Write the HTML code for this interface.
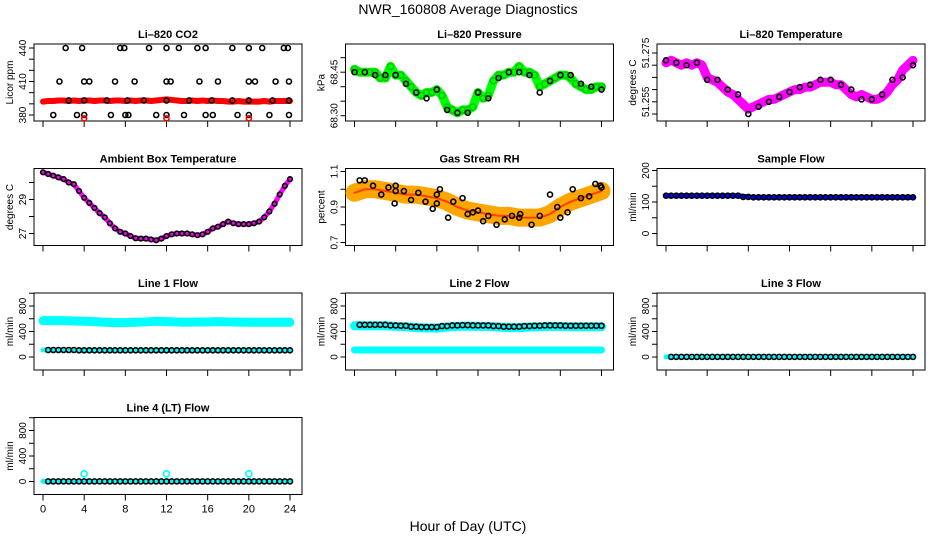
<!DOCTYPE html>
<html><head><meta charset="utf-8">
<style>
html,body{margin:0;padding:0;background:#fff;}
svg{display:block;font-family:"Liberation Sans",sans-serif;}
</style></head>
<body>
<svg id="chart" width="936" height="540" viewBox="0 0 936 540" xmlns="http://www.w3.org/2000/svg">
<text x="468" y="14" font-size="14" text-anchor="middle">NWR_160808  Average Diagnostics</text>
<text x="468" y="531" font-size="14" text-anchor="middle">Hour of Day (UTC)</text>
</svg>
<script>
// ---- data ----
const halfHours = [0,0.5,1,1.5,2,2.5,3,3.5,4,4.5,5,5.5,6,6.5,7,7.5,8,8.5,9,9.5,10,10.5,11,11.5,12,12.5,13,13.5,14,14.5,15,15.5,16,16.5,17,17.5,18,18.5,19,19.5,20,20.5,21,21.5,22,22.5,23,23.5,24];
const hours = [0,1,2,3,4,5,6,7,8,9,10,11,12,13,14,15,16,17,18,19,20,21,22,23,24];
const co2Red = [392,392.5,392.5,393,393,392.5,393,392.5,393,393,392.5,393,393,392.5,393,393,392.5,393,392.5,393,393,392.5,393,393.5,394,393.5,393,392.5,392.5,393,392.5,393,392.5,393,392.5,392.5,392,392,392.5,392,392,392,392,392.5,392,392.5,392.5,392.5,392.5];
const co2BlackH = [2.2,3.8,7.5,7.9,10.3,12,13.2,15,15.8,18.4,20,21.3,23.4,23.8, 1.6,4,4.5,7,8.9,12,12.4,15.2,17,20,20.6,22.6,23.9, 2.5,4,6.2,8.2,9.8,12,14.2,16.4,18.4,20,22.3,23.9, 1,3.3,4,6.6,8,8.3,11,12,13.7,15.8,16.5,18.9,20,22,23.9];
const co2BlackV = [440,440,440,440,440,440,440,440,440,440,440,440,440,440, 410,410,410,410,410,410,410,410,410,410,410,410,410, 393,393,393,393,393,393,393,393,393,393,393,393, 380,380,380,380,380,380,380,380,380,380,380,380,380,380,380];
const co2RedOutH = [4,12,20];
const co2RedOutV = [377,377,377];
const pressGreen = [68.46,68.45,68.45,68.45,68.45,68.43,68.43,68.47,68.44,68.44,68.42,68.40,68.38,68.37,68.38,68.38,68.39,68.37,68.33,68.32,68.31,68.32,68.32,68.33,68.38,68.36,68.37,68.42,68.44,68.44,68.45,68.45,68.47,68.45,68.45,68.44,68.40,68.41,68.42,68.43,68.44,68.44,68.43,68.41,68.40,68.39,68.39,68.40,68.40];
const pressBlack = [68.45,68.45,68.44,68.44,68.44,68.41,68.38,68.36,68.39,68.32,68.31,68.31,68.38,68.36,68.43,68.45,68.45,68.44,68.38,68.42,68.44,68.44,68.41,68.40,68.39];
const tempMag = [51.271,51.272,51.271,51.270,51.271,51.270,51.271,51.270,51.265,51.264,51.263,51.261,51.259,51.258,51.256,51.254,51.252,51.253,51.254,51.255,51.256,51.256,51.257,51.258,51.259,51.260,51.260,51.261,51.261,51.262,51.263,51.263,51.263,51.262,51.262,51.260,51.258,51.257,51.258,51.257,51.256,51.256,51.257,51.259,51.262,51.264,51.268,51.270,51.272];
const tempBlack = [51.272,51.271,51.270,51.271,51.264,51.264,51.260,51.258,51.250,51.253,51.255,51.257,51.259,51.261,51.262,51.264,51.264,51.262,51.260,51.256,51.256,51.258,51.264,51.265,51.270];
const ambMag = [30.6,30.5,30.4,30.3,30.2,30.0,29.9,29.5,29.1,28.8,28.5,28.2,27.95,27.6,27.3,27.1,27.0,26.85,26.72,26.7,26.7,26.65,26.6,26.7,26.85,26.95,27.0,27.0,27.0,26.95,26.9,26.95,27.1,27.3,27.4,27.55,27.7,27.6,27.55,27.55,27.55,27.6,27.7,27.95,28.3,28.75,29.3,29.8,30.2];
const rhCenter = [0.98,1.0,1.0,0.99,0.98,0.97,0.97,0.96,0.95,0.93,0.9,0.88,0.87,0.86,0.85,0.85,0.84,0.84,0.84,0.86,0.9,0.93,0.95,0.97,0.99];
const rhBlackH = [0.5,1,1.8,2.6,3.3,3.9,4,4,4.8,5.5,6.2,6.9,7.6,8,8,8.3,9.1,9.6,10.5,11,11.5,12,12.5,13,13.8,14.6,15.3,16,16.1,17.2,18,19,19.7,20,20.7,21.2,22,22.8,23.4,23.9,24];
const rhBlackV = [1.05,1.05,1.02,0.97,1.01,0.92,1.02,0.99,0.99,0.94,0.98,0.93,0.89,0.92,0.97,1.0,0.84,0.93,0.95,0.86,0.87,0.88,0.82,0.85,0.8,0.83,0.85,0.84,0.86,0.8,0.85,0.97,0.9,0.84,0.87,1.0,0.95,0.96,1.03,1.02,1.01];
const sampleBlue = [120,120,120,120,120,120,120,120,116,115,115,115,115,115,115,115,115,115,115,115,115,115,115,115,115];
const line1Upper = [570,570,570,565,560,555,545,540,540,545,550,560,555,550,545,550,550,555,550,548,545,545,545,548,545];
const line1Lower = [110,110,110,110,105,105,105,105,105,105,105,105,105,105,105,105,105,105,105,105,105,105,105,105,105];
const line2Upper = [490,490,490,490,480,475,460,455,455,470,480,485,480,480,470,460,460,470,475,480,480,475,475,475,475];
const line2Lower = [110,110,110,110,110,110,110,110,110,110,110,110,110,110,110,110,110,110,110,110,110,110,110,110,110];
const line3Vals = [2,2,2,2,2,2,2,2,2,2,2,2,2,2,2,2,2,2,2,2,2,2,2,2,2];
const line4Vals = [2,2,2,2,2,2,2,2,2,2,2,2,2,2,2,2,2,2,2,2,2,2,2,2,2];
const line4OutH = [4,12,20];
const line4OutV = [120,120,120];
const xTicks = [0,4,8,12,16,20,24];

// ---- geometry helpers ----
const svg = document.getElementById('chart');
const NS = 'http://www.w3.org/2000/svg';
function mk(tag, attrs, parent){ const e=document.createElementNS(NS,tag); for(const k in attrs) e.setAttribute(k,attrs[k]); (parent||svg).appendChild(e); return e; }
function lin(v0,p0,v1,p1){ return v => p0+(v-v0)*(p1-p0)/(v1-v0); }

function panel(r,c,name,title,ylab,yA,yB,ticks,labels,showX){
  const L = 34+311.5*c, T = 44+124.5*r, W = 268, H = 77;
  const g = mk('g',{});
  
  
  const X = h => L+9+h*247/24;
  const Y = lin(yA[0],T+yA[1],yB[0],T+yB[1]);
  const t = mk('text',{x:L+W/2,y:T-6,'font-size':11,'font-weight':'bold','text-anchor':'middle'},g);
  t.textContent = title;
  
  
  const box = mk('rect',{x:L,y:T,width:W,height:H,fill:'none',stroke:'#000','stroke-width':1},g);
  
  
  const yl = mk('text',{transform:`translate(${L-21},${T+H/2}) rotate(-90)`,'font-size':10,'text-anchor':'middle'},g);
  yl.textContent = ylab;
  
  
  ticks.forEach(v=>{ const y=Y(v); mk('line',{x1:L-5,x2:L,y1:y,y2:y,stroke:'#000'},g); });
  labels.forEach(([v,s])=>{ const y=Y(v);
    const tl = mk('text',{transform:`translate(${L-8},${y}) rotate(-90)`,'font-size':10,'text-anchor':'middle'},g);
    tl.textContent = s;
    
    
  });
  xTicks.forEach(h=>{ const x=X(h); mk('line',{x1:x,x2:x,y1:T+H,y2:T+H+6,stroke:'#000'},g);
    if(showX){ const tx = mk('text',{x:x,y:T+H+18,'font-size':11,'text-anchor':'middle'},g);
      tx.textContent = h;
      
       }
  });
  return {X,Y,g};
}
function band(p,xs,vs,color,w,name){
  const pl = mk('polyline',{points:xs.map((h,i)=>p.X(h)+','+p.Y(vs[i])).join(' '),fill:'none',stroke:color,'stroke-width':w,'stroke-linejoin':'round','stroke-linecap':'round'},p.g);
  
  
}
function pts(p,xs,vs,color,r,name){
  xs.forEach((h,i)=>{ const c = mk('circle',{cx:p.X(h),cy:p.Y(vs[i]),r:r,fill:'none',stroke:color,'stroke-width':1.6},p.g);
    
     });
}
function range(a,b,s){ const o=[]; for(let v=a; v<=b+1e-9; v+=s) o.push(+v.toFixed(4)); return o; }
const flowTicks = range(0,1000,200), flowLabels=[[0,'0'],[400,'400'],[800,'800']];
const fA=[0,64], fB=[800,13];

// CO2
let p = panel(0,0,'co2','Li\u2013820 CO2','Licor ppm',[440,4],[380,71],range(380,440,10),[[380,'380'],[410,'410'],[440,'440']],false);
band(p,halfHours,co2Red,'#f00',6,'co2-red-series');
pts(p,co2BlackH,co2BlackV,'#000',2.5,'co2-point');
pts(p,co2RedOutH,co2RedOutV,'#f00',2.5,'co2-red-outlier');
// Pressure
p = panel(0,1,'pressure','Li\u2013820 Pressure','kPa',[68.30,71.7],[68.50,13.7],range(68.30,68.50,0.05),[[68.30,'68.30'],[68.45,'68.45']],false);
band(p,halfHours,pressGreen,'#0f0',9,'pressure-green-series');
pts(p,halfHours,pressGreen,'#0c0',3,'pressure-green-point');
pts(p,hours,pressBlack,'#000',2.5,'pressure-point');
// Temperature
p = panel(0,2,'li820-temp','Li\u2013820 Temperature','degrees C',[51.275,9],[51.25,70],range(51.25,51.275,0.005),[[51.275,'51.275'],[51.255,'51.255']],false);
band(p,halfHours,tempMag,'#f0f',9,'temp-magenta-series');
pts(p,halfHours,tempMag,'#f0f',2.5,'temp-magenta-point');
pts(p,hours,tempBlack,'#000',2.5,'temp-point');
// Ambient
p = panel(1,0,'ambient','Ambient Box Temperature','degrees C',[30,14],[27,65],[27,28,29,30],[[27,'27'],[29,'29']],false);
band(p,halfHours,ambMag,'#f0f',5,'ambient-magenta-series');
pts(p,halfHours,ambMag,'#000',2.3,'ambient-point');
// RH
p = panel(1,1,'rh','Gas Stream RH','percent',[1.1,3],[0.7,74],[0.7,0.8,0.9,1.0,1.1],[[0.7,'0.7'],[0.9,'0.9'],[1.1,'1.1']],false);
band(p,hours,rhCenter,'#ffa500',18,'rh-orange-series');
band(p,hours,rhCenter,'#ff4000',2,'rh-red-series');
pts(p,rhBlackH,rhBlackV,'#000',2.5,'rh-point');
// Sample flow
p = panel(1,2,'sample-flow','Sample Flow','ml/min',[200,2],[0,65],range(0,200,50),[[0,'0'],[100,'100'],[200,'200']],false);
band(p,hours,sampleBlue,'#00f',5,'sample-blue-series');
pts(p,halfHours,halfHours.map((h)=>sampleBlue[Math.round(h)]),'#000',2.5,'sample-point');
// Line 1
p = panel(2,0,'line1','Line 1 Flow','ml/min',fA,fB,flowTicks,flowLabels,false);
band(p,hours,line1Upper,'#0ff',9,'line1-upper-series');
band(p,hours,line1Lower,'#0ff',5,'line1-lower-series');
pts(p,halfHours.slice(1),halfHours.slice(1).map(h=>line1Lower[Math.round(h)]),'#000',2.5,'line1-point');
// Line 2
p = panel(2,1,'line2','Line 2 Flow','ml/min',fA,fB,flowTicks,flowLabels,false);
band(p,hours,line2Upper,'#0ff',9,'line2-upper-series');
band(p,hours,line2Lower,'#0ff',7,'line2-lower-series');
pts(p,halfHours.slice(1),halfHours.slice(1).map(h=>line2Upper[Math.round(h)]+15),'#000',2.5,'line2-point');
// Line 3
p = panel(2,2,'line3','Line 3 Flow','ml/min',fA,fB,flowTicks,flowLabels,false);
band(p,hours,line3Vals,'#0ff',5,'line3-series');
pts(p,halfHours.slice(1),halfHours.slice(1).map(h=>line3Vals[Math.round(h)]),'#000',2.5,'line3-point');
// Line 4
p = panel(3,0,'line4','Line 4 (LT) Flow','ml/min',fA,fB,flowTicks,flowLabels,true);
band(p,hours,line4Vals,'#0ff',5,'line4-series');
pts(p,halfHours.slice(1),halfHours.slice(1).map(h=>line4Vals[Math.round(h)]),'#000',2.5,'line4-point');
pts(p,line4OutH,line4OutV,'#0ff',3,'line4-outlier');
</script>
</body></html>
